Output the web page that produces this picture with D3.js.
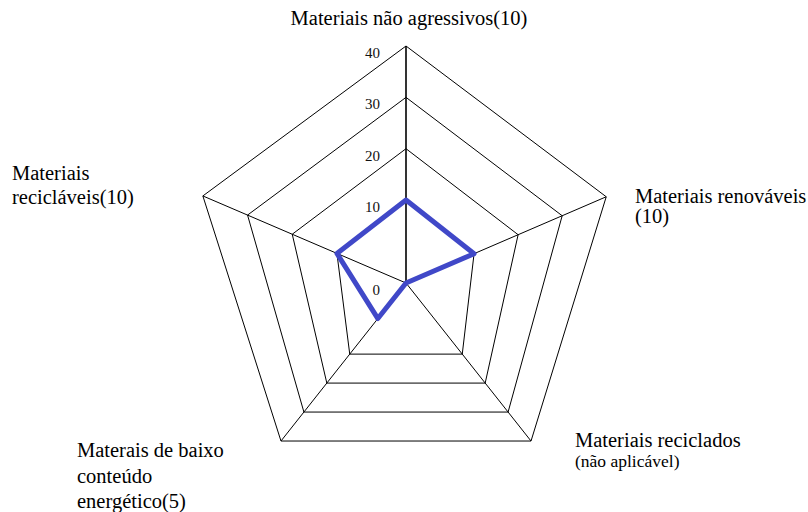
<!DOCTYPE html>
<html>
<head>
<meta charset="utf-8">
<script src="https://cdn.jsdelivr.net/npm/d3@7"></script>
<style>
  html, body { margin: 0; padding: 0; background: #fff; }
  svg { display: block; }
  svg text { font-family: "Liberation Serif", "Tinos", "Times New Roman", "DejaVu Serif", serif; }
</style>
</head>
<body>
<svg id="chart" width="808" height="512"></svg>
<script>
// Radar profile of the sustainability criteria for building materials
const categories = [
  ["Materiais não agressivos(10)"],
  ["Materiais renováveis", "(10)"],
  ["Materiais reciclados", "(não aplicável)"],
  ["Materais de baixo", "conteúdo", "energético(5)"],
  ["Materiais", "recicláveis(10)"]
];
const scores = [10, 10, 0, 5, 10];
const gridLevels = [10, 20, 30, 40];
const tickValues = [0, 10, 20, 30, 40];
const tickLabels = ["0", "10", "20", "30", "40"];

// Chart geometry: spoke directions (degrees), spoke lengths and the
// share of each spoke taken by the innermost band (0 to 10)
const center = { x: 406, y: 283 };
const spokeAngles = [-90, -23.3, 51.65, 128.35, 203.2];
const spokeLengths = [237, 218, 201.5, 201.5, 221];
const innerShare = [0.35, 0.34, 0.45, 0.45, 0.34];

// Label placement for each category (first baseline, line step, anchor)
const labelLayout = [
  { x: 409, y: 25, step: 24, anchor: "middle" },
  { x: 635, y: 203, step: 20, anchor: "start" },
  { x: 575, y: 447, step: 20, anchor: "start" },
  { x: 77, y: 457, step: 25.5, anchor: "start" },
  { x: 12, y: 180, step: 24, anchor: "start" }
];

const svg = d3.select("#chart");

// One radial scale per spoke, as a fraction of that spoke's length
const radial = categories.map((c, i) =>
  d3.scaleLinear()
    .domain([0, 10, d3.max(gridLevels)])
    .range([0, innerShare[i], 1]));

function point(i, v) {
  const a = spokeAngles[i] * Math.PI / 180;
  const len = spokeLengths[i] * radial[i](v);
  return [center.x + Math.cos(a) * len, center.y + Math.sin(a) * len];
}

const closed = d3.line().curve(d3.curveLinearClosed);

// Grid rings
svg.append("g")
  .selectAll("path")
  .data(gridLevels)
  .join("path")
  .attr("d", lv => closed(categories.map((c, i) => point(i, lv))))
  .attr("fill", "none")
  .attr("stroke", "#000")
  .attr("stroke-width", 1);

// Spokes
svg.append("g")
  .selectAll("line")
  .data(categories)
  .join("line")
  .attr("x1", center.x)
  .attr("y1", center.y)
  .attr("x2", (c, i) => point(i, d3.max(gridLevels))[0])
  .attr("y2", (c, i) => point(i, d3.max(gridLevels))[1])
  .attr("stroke", "#000")
  .attr("stroke-width", (c, i) => i === 0 ? 1.6 : 1);

// Value labels along the first spoke
svg.append("g")
  .selectAll("text")
  .data(tickValues)
  .join("text")
  .attr("x", center.x - 26)
  .attr("y", v => point(0, v)[1] + 12)
  .attr("text-anchor", "end")
  .attr("font-size", 15)
  .attr("fill", "#111")
  .text((v, i) => tickLabels[i]);

// Data series
svg.append("path")
  .attr("d", closed(scores.map((v, i) => point(i, v))))
  .attr("fill", "none")
  .attr("stroke", "#4048c8")
  .attr("stroke-width", 5)
  .attr("stroke-linejoin", "round");

// Category labels
const labels = svg.append("g").attr("fill", "#000");

categories.forEach((lines, i) => {
  const L = labelLayout[i];
  const t = labels.append("text")
    .attr("text-anchor", L.anchor);
  lines.forEach((line, j) => {
    t.append("tspan")
      .attr("x", L.x)
      .attr("y", L.y + j * L.step)
      .attr("font-size", (i === 2 && j === 1) ? 17.5 : 20.5)
      .text(line);
  });
});
</script>
</body>
</html>
